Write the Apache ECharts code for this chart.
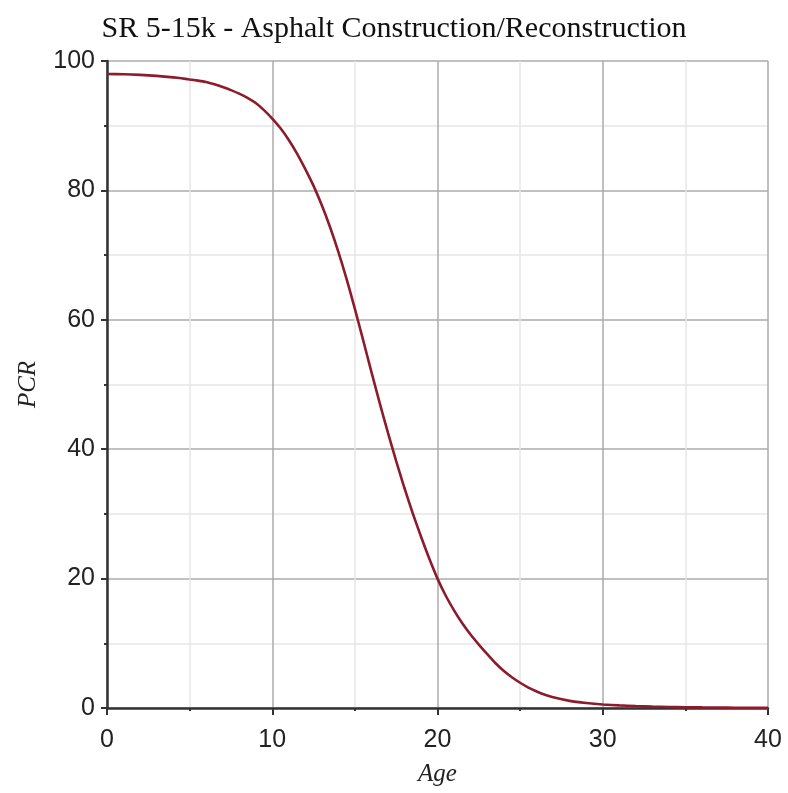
<!DOCTYPE html>
<html>
<head>
<meta charset="utf-8">
<script src="https://cdn.jsdelivr.net/npm/echarts@6/dist/echarts.min.js"></script>
<style>
  html, body { margin: 0; padding: 0; background: #fff; }
  #chart { width: 788px; height: 793px; }
</style>
</head>
<body>
<div id="chart"></div>
<script>
// Pavement condition rating (PCR) versus pavement age
const ages = [0, 1, 2, 3, 4, 4.5, 5, 5.5, 6, 6.5, 7, 7.5, 8, 8.5, 9, 9.5, 10, 10.5, 11, 11.5, 12,
              12.5, 13, 13.5, 14, 14.5, 15, 15.5, 16, 16.5, 17, 17.5, 18, 18.5, 19, 19.5, 20,
              20.5, 21, 21.5, 22, 22.5, 23, 23.5, 24, 24.5, 25, 25.5, 26, 26.5, 27, 28, 29, 30,
              31, 32, 33, 34, 35, 36, 37, 38, 39, 40];
const pcr = [98.0, 97.95, 97.85, 97.7, 97.47, 97.33, 97.15, 96.97, 96.75, 96.4, 95.98, 95.5,
             94.95, 94.3, 93.5, 92.4, 91.1, 89.6, 87.8, 85.7, 83.3, 80.7, 77.7, 74.3, 70.5,
             66.3, 61.7, 56.85, 51.95, 47.15, 42.55, 38.15, 34.0, 30.1, 26.5, 23.1, 20.0,
             17.35, 15.1, 13.1, 11.35, 9.8, 8.35, 6.95, 5.75, 4.75, 3.9, 3.15, 2.55, 2.05,
             1.65, 1.1, 0.78, 0.55, 0.4, 0.3, 0.22, 0.16, 0.12, 0.09, 0.07, 0.05, 0.04, 0.03];
const titleText = 'SR 5-15k - Asphalt Construction/Reconstruction';
const xName = 'Age';
const yName = 'PCR';

const chart = echarts.init(document.getElementById('chart'));
const tickFont = { fontFamily: 'Liberation Sans', fontSize: 25, color: '#222' };
const nameFont = { fontFamily: 'Liberation Serif', fontStyle: 'italic', fontSize: 25, color: '#222' };

chart.setOption({
  animation: false,
  title: {
    text: titleText,
    left: 'center',
    top: 9,
    textStyle: { fontFamily: 'Liberation Serif', fontWeight: 'normal', fontSize: 30, color: '#111' }
  },
  grid: { left: 107, right: 20, top: 61, bottom: 85 },
  xAxis: {
    type: 'value',
    min: 0, max: 40, interval: 10,
    name: xName,
    nameLocation: 'middle',
    nameGap: 54,
    nameTextStyle: nameFont,
    axisLine: { show: true, onZero: false, lineStyle: { color: '#333', width: 2.5 } },
    axisTick: { show: true, length: 7, lineStyle: { color: '#333', width: 2 } },
    minorTick: { show: true, splitNumber: 2, length: 3, lineStyle: { color: '#333', width: 2 } },
    axisLabel: Object.assign({ margin: 20 }, tickFont),
    splitLine: { show: true, lineStyle: { color: '#ababab', width: 1.5 } },
    minorSplitLine: { show: true, lineStyle: { color: '#e6e6e6', width: 1.5 } }
  },
  yAxis: {
    type: 'value',
    min: 0, max: 100, interval: 20,
    name: yName,
    nameLocation: 'middle',
    nameGap: 66,
    nameRotate: 90,
    nameTextStyle: nameFont,
    axisLine: { show: true, onZero: false, lineStyle: { color: '#333', width: 2.5 } },
    axisTick: { show: true, length: 6, lineStyle: { color: '#333', width: 2 } },
    minorTick: { show: true, splitNumber: 2, length: 3, lineStyle: { color: '#333', width: 2 } },
    axisLabel: Object.assign({ margin: 12 }, tickFont),
    splitLine: { show: true, lineStyle: { color: '#ababab', width: 1.5 } },
    minorSplitLine: { show: true, lineStyle: { color: '#e6e6e6', width: 1.5 } }
  },
  series: [{
    type: 'line',
    data: ages.map((a, i) => [a, pcr[i]]),
    smooth: 0.2,
    showSymbol: false,
    lineStyle: { color: '#8c1c2c', width: 2.6 }
  }]
});
</script>
</body>
</html>
